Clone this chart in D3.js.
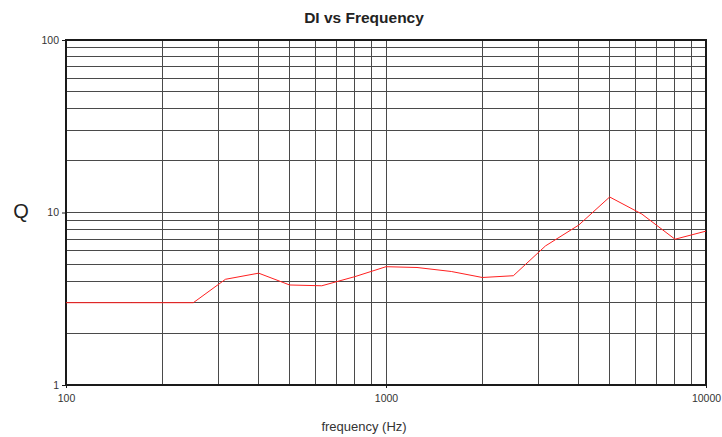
<!DOCTYPE html>
<html lang="en">
<head>
  <meta charset="UTF-8">
  <title>DI vs Frequency</title>
  <script src="https://cdn.jsdelivr.net/npm/d3@7"></script>
  <style>
    body { margin: 0; background: #fff; font-family: "Liberation Sans", Arial, sans-serif; }
    .grid line { stroke: #4a4a4a; stroke-width: 1; shape-rendering: crispEdges; }
    .tick text { fill: #333; font-size: 10.5px; font-family: "Liberation Sans", Arial, sans-serif; }
  </style>
</head>
<body>
  <div id="chart"></div>
  <script>
    // 1/3 octave frequencies and Q values
    const freqs = [100, 125, 160, 200, 250, 315, 400, 500, 630, 800, 1000, 1250, 1600, 2000, 2500, 3150, 4000, 5000, 6300, 8000, 10000];
    const qValues = [3.0, 3.0, 3.0, 3.0, 3.0, 4.1, 4.45, 3.8, 3.76, 4.25, 4.85, 4.8, 4.55, 4.2, 4.3, 6.4, 8.45, 12.3, 9.8, 7.0, 7.8];
    const xTicks = [100, 1000, 10000];
    const yTicks = [1, 10, 100];

    const W = 722, H = 437;
    const margin = { top: 40, right: 16, bottom: 52, left: 66 };
    const width = W - margin.left - margin.right;
    const height = H - margin.top - margin.bottom;

    const svg = d3.select("#chart").append("svg")
      .attr("width", W).attr("height", H);
    const g = svg.append("g")
      .attr("transform", `translate(${margin.left},${margin.top})`);

    const x = d3.scaleLog().domain([100, 10000]).range([0, width]);
    const y = d3.scaleLog().domain([1, 100]).range([height, 0]);

    // grid: every 1..9 per decade
    const xGrid = x.ticks().filter(d => d > 100 && d < 10000);
    const yGrid = y.ticks().filter(d => d > 1 && d < 100);

    g.append("g").attr("class", "grid")
      .selectAll("line").data(xGrid).enter().append("line")
      .attr("x1", d => x(d)).attr("x2", d => x(d))
      .attr("y1", 0).attr("y2", height);

    g.append("g").attr("class", "grid")
      .selectAll("line").data(yGrid).enter().append("line")
      .attr("x1", 0).attr("x2", width)
      .attr("y1", d => y(d)).attr("y2", d => y(d));

    // frame
    g.append("rect")
      .attr("width", width).attr("height", height)
      .attr("fill", "none").attr("stroke", "#1a1a1a").attr("stroke-width", 2);

    // axes (labels only)
    const xAxis = g.append("g")
      .attr("transform", `translate(0,${height})`)
      .call(d3.axisBottom(x).tickValues(xTicks).tickFormat(d3.format("d")).tickSize(3).tickPadding(7));
    xAxis.select(".domain").remove();
    xAxis.selectAll("line").attr("stroke", "#1a1a1a");

    const yAxis = g.append("g")
      .call(d3.axisLeft(y).tickValues(yTicks).tickFormat(d3.format("d")).tickSize(4).tickPadding(3));
    yAxis.select(".domain").remove();
    yAxis.selectAll("line").attr("stroke", "#1a1a1a");

    // data line
    const line = d3.line()
      .x((d, i) => x(freqs[i]))
      .y(d => y(d));
    g.append("path")
      .datum(qValues)
      .attr("fill", "none")
      .attr("stroke", "#ff2020")
      .attr("stroke-width", 1)
      .attr("d", line);

    // title and labels
    svg.append("text")
      .attr("x", 364).attr("y", 23)
      .attr("text-anchor", "middle")
      .attr("font-size", 15.5).attr("font-weight", "bold").attr("fill", "#222")
      .text("DI vs Frequency");

    svg.append("text")
      .attr("x", 21).attr("y", margin.top + y(10) + 5)
      .attr("text-anchor", "middle")
      .attr("font-size", 20).attr("fill", "#222")
      .text("Q");

    svg.append("text")
      .attr("x", 364).attr("y", 431)
      .attr("text-anchor", "middle")
      .attr("font-size", 13).attr("fill", "#333")
      .text("frequency (Hz)");
  </script>
</body>
</html>
